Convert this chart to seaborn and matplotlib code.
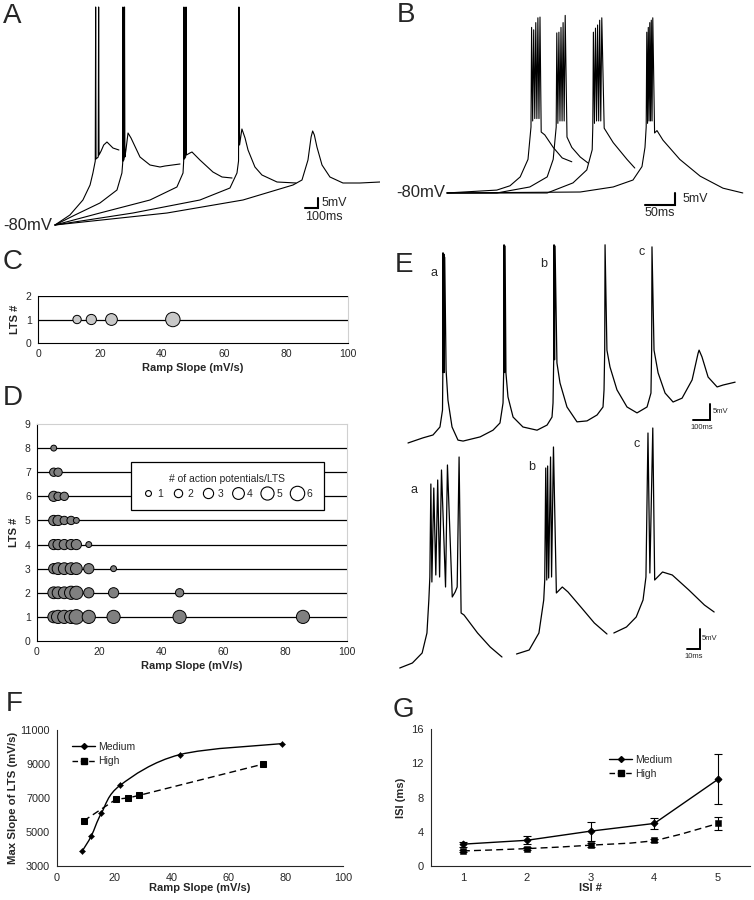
import numpy as np
import pandas as pd
import seaborn as sns
import matplotlib
matplotlib.use("Agg")
import matplotlib.pyplot as plt
from matplotlib.path import Path
from matplotlib.patches import PathPatch
from matplotlib.lines import Line2D

# ---------------- data ----------------
# A: responses to ramps of different slope (time ms, Vm mV)
a1_t = [0, 115, 215, 270, 292, 310, 313, 316, 333, 336, 339, 355, 375, 400, 423, 446, 492]
a1_v = [-80, -75, -67.5, -60, -54, -48, 29, -47, -46, 29, -45, -43, -40, -38.5, -40, -41.5, -42.5]
a2_t = [0, 154, 346, 477, 515, 521, 523, 526, 532, 535, 538, 546, 562, 585, 654, 731, 808, 846, 962]
a2_v = [-80, -75, -69, -62.5, -54, -49, 29, -48, -47, 29, -46, -42.5, -34, -36.5, -46, -50, -51, -50.5, -49.5]
a3_t = [0, 346, 731, 938, 985, 990, 992, 995, 1005, 1008, 1011, 1038, 1054, 1115, 1215, 1285, 1362]
a3_v = [-80, -74, -67.5, -61, -54, -48, 29, -47, -46, 29, -45, -44, -43.5, -47.5, -53.5, -56, -56.5]
a4_t = [0, 600, 1115, 1346, 1400, 1412, 1415, 1420, 1431, 1438, 1462, 1485, 1538, 1592, 1708, 1854]
a4_v = [-80, -74, -67.5, -61.5, -54, -48, 29, -40, -35, -32, -36.5, -42.5, -51, -55, -58.5, -59]
a5_t = [0, 862, 1446, 1831, 1900, 1946, 1970, 1982, 1995, 2015, 2054, 2115, 2215, 2346, 2500]
a5_v = [-80, -74, -67.5, -60, -57.5, -47.5, -36, -33, -35, -41, -50, -56, -59, -59, -58.5]

# B: bursts (time ms, Vm mV)
b1_t = [0, 83, 105, 122, 135, 140, 141, 142.8, 144.5, 146.3, 148, 149.8, 151.5, 153.3, 155, 157, 163, 177, 192, 208]
b1_v = [-80, -78.8, -77, -73.3, -66, -52.5, -11, -50, -12, -49, -9, -49, -7, -49, -6.7, -54.6, -55.8, -61, -65.4, -67]
b2_t = [0, 83, 138, 167, 177, 182, 183, 184.8, 186.5, 188.3, 190, 191.8, 193.5, 195.3, 197, 200, 208, 222, 235]
b2_v = [-80, -80, -77.5, -73.3, -66, -52.5, -13.3, -51, -13, -50, -11, -50, -9, -50, -6, -56.7, -61, -65, -67.5]
b3_t = [0, 167, 210, 233, 242, 243, 244, 245.8, 247.5, 249.3, 251, 252.8, 254.5, 256.3, 258, 262, 277, 300, 313]
b3_v = [-80, -80, -75.8, -70.4, -62, -52.5, -13, -51, -11.3, -50, -10, -50, -8, -50, -7, -53, -59, -66, -69.6]
b4_t = [0, 222, 277, 310, 325, 330, 332, 333, 334.3, 335.5, 336.8, 338, 339.3, 340.5, 341.8, 343, 346, 350, 360, 388, 422, 460, 493]
b4_v = [-80, -79.6, -77.5, -74.6, -69, -61, -52.5, -13, -51, -11, -50, -9, -50, -8, -50, -7, -55, -54, -58, -66, -73, -78, -80]

# E top: spontaneous LTS train (time ms, mV above trough)
e_t = [0, 88, 147, 188, 203, 205, 206, 208, 211, 213, 216, 224, 235, 259, 294, 324, 424, 500, 541, 559,
       563, 565, 568, 571, 576, 588, 618, 676, 759, 818, 847, 853, 857, 859, 862, 865, 876, 894, 935, 994,
       1053, 1112, 1147, 1153, 1157, 1159, 1170, 1188, 1229, 1288, 1347, 1406, 1429, 1433, 1435, 1447,
       1471, 1512, 1559, 1612, 1671, 1706, 1712, 1729, 1765, 1818, 1853, 1924]
e_v = [0, 1.6, 2.5, 5, 10.3, 22.8, 59.4, 22, 59, 22, 58, 22.8, 13.4, 5, 0.9, 0.6, 1.9, 4, 6.25, 12.5,
       22.8, 61.9, 22, 61.5, 21.9, 14.4, 8.1, 5, 4, 5.6, 8.1, 12.5, 26, 61.9, 26, 61.5, 25, 18.75, 11.25, 6.6,
       6.9, 8.75, 11.25, 16.6, 29, 61.9, 29, 23.75, 16.6, 11.25, 9.4, 11.25, 15.6, 29, 61.25, 29,
       21.9, 15.6, 12.8, 14, 19.7, 28, 29, 26.9, 20.6, 17.5, 18.1, 19]

# E bottom: expanded bursts a, b, c (time ms, mV)
ea_t = [0, 10, 17.7, 21.5, 23, 23.8, 24.6, 25.4, 26.9, 28.5, 30, 31.5, 33, 36.2, 37.7, 41.5, 43.8, 45.4, 46.9, 48.5, 50.8, 61.5, 71.5, 80.8]
ea_v = [0, 1.25, 3.75, 8.75, 17, 22.75, 46, 21.5, 45, 23.25, 47, 22.75, 49.5, 20.25, 50.75, 17.75, 19, 20.25, 52.75, 13.75, 13.25, 8.75, 5.25, 2.75]
eb_t = [92.3, 102.3, 110, 113.8, 114.6, 115.4, 116.2, 116.9, 117.7, 119.2, 120, 121.5, 123.8, 128.5, 133, 143.8, 153.8, 163.8]
eb_v = [3.5, 4.5, 8.75, 17, 22, 50, 22, 50.5, 22.5, 52.75, 22.75, 55.25, 18.75, 20.25, 19, 15, 11.25, 8.5]
ec_t = [169.2, 179.2, 186.9, 192.3, 194.6, 196.2, 197.7, 200, 201.5, 207.7, 215.4, 228.5, 240.8, 248.5]
ec_v = [8.75, 10.25, 12.75, 17, 22.75, 58.75, 23.75, 60, 22, 24, 23.25, 19.5, 15.75, 14]

# C: single-LTS cells
c_slope = [12.6, 17.2, 23.7, 43.5]
c_lts = [1, 1, 1, 1]
c_aps = [2, 3, 4, 6]

# D: multi-LTS cells, row i = LTS #(i+1)
d_slopes = [5.4, 6.8, 8.8, 11, 12.7, 16.7, 24.7, 46, 85.8]
d_aps = [[4, 5, 5, 5, 6, 5, 5, 5, 5],
         [4, 4, 4, 5, 5, 3, 3, 2],
         [3, 4, 4, 4, 4, 3, 1],
         [3, 3, 3, 3, 3, 1],
         [3, 3, 2, 2, 1],
         [3, 2, 2],
         [2, 2],
         [1]]

# F: max LTS slope vs ramp slope
f_med_x = [8.9, 12.0, 15.5, 22.1, 42.9, 78.8]
f_med_y = [3900, 4770, 6100, 7750, 9550, 10200]
f_high_x = [9.3, 20.7, 24.8, 28.6, 72.0]
f_high_y = [5650, 6930, 7000, 7150, 8990]

# G: ISI within burst
g_isi = [1, 2, 3, 4, 5]
g_med = [2.55, 3.0, 4.07, 4.97, 10.13]
g_med_err = [0.3, 0.45, 1.1, 0.65, 2.9]
g_high = [1.76, 2.03, 2.43, 3.0, 4.97]
g_high_err = [0.15, 0.15, 0.2, 0.2, 0.8]

# ---------------- style ----------------
sns.set_style("white")
plt.rcParams['font.family'] = ['Liberation Sans', 'DejaVu Sans']
plt.rcParams['axes.linewidth'] = 0.8

W, H = 754, 900
fig = plt.figure(figsize=(W / 100, H / 100), dpi=100)


def box(x0, y0, x1, y1):
    return [x0 / W, 1 - y1 / H, (x1 - x0) / W, (y1 - y0) / H]


def trace(ax, t, v, lw=0.8):
    sns.lineplot(x=t, y=v, sort=False, estimator=None, color='black', linewidth=lw, ax=ax)


def scalebar(ax, t0, v0, dt, dv, lw=1.5):
    ax.plot([t0, t0 + dt, t0 + dt], [v0, v0, v0 + dv], color='black', lw=lw, solid_joinstyle='miter')


def smooth_line(ax, x, y, **kw):
    pts = np.column_stack([x, y]).astype(float)
    n = len(pts)
    verts, codes = [pts[0]], [Path.MOVETO]
    for i in range(n - 1):
        p0, p1 = pts[max(i - 1, 0)], pts[i]
        p2, p3 = pts[i + 1], pts[min(i + 2, n - 1)]
        verts += [p1 + (p2 - p0) / 6, p2 - (p3 - p1) / 6, p2]
        codes += [Path.CURVE4] * 3
    ax.add_patch(PathPatch(Path(verts, codes), fill=False, **kw))


# ---------------- A ----------------
axA = fig.add_axes(box(40, 0, 380, 240))
for t, v in [(a1_t, a1_v), (a2_t, a2_v), (a3_t, a3_v), (a4_t, a4_v), (a5_t, a5_v)]:
    trace(axA, t, v)
scalebar(axA, 1923, -71.5, 100, 5)
axA.text(2050, -69, "5mV", fontsize=9, va='center')
axA.text(2069, -76, "100ms", fontsize=9, va='center', ha='center')
axA.text(-23, -80, "-80mV", fontsize=12, va='center', ha='right')
axA.set_xlim(-115, 2500)
axA.set_ylim(-87.5, 32.5)
axA.axis('off')

# ---------------- B ----------------
axB = fig.add_axes(box(420, 0, 754, 240))
for t, v in [(b1_t, b1_v), (b2_t, b2_v), (b3_t, b3_v), (b4_t, b4_v)]:
    trace(axB, t, v)
scalebar(axB, 330, -85, 50, 5)
axB.text(392, -82.5, "5mV", fontsize=9, va='center')
axB.text(355, -88.5, "50ms", fontsize=9, va='center', ha='center')
axB.text(-3, -80, "-80mV", fontsize=12, va='center', ha='right')
axB.set_xlim(-45, 511.7)
axB.set_ylim(-99.6, 0.42)
axB.axis('off')

# ---------------- E ----------------
axE1 = fig.add_axes(box(400, 240, 754, 450))
trace(axE1, e_t, e_v, lw=0.9)
scalebar(axE1, 1676, 7.2, 100, 5, lw=1.4)
axE1.text(1794, 9.7, "5mV", fontsize=5.5, va='center')
axE1.text(1729, 4.7, "100ms", fontsize=5.5, va='center', ha='center')
for lab, t, v in [("a", 153, 53), ("b", 800, 56), ("c", 1376, 59.7)]:
    axE1.text(t, v, lab, fontsize=9, ha='center', va='center')
axE1.set_xlim(-47, 2035)
axE1.set_ylim(-2.19, 63.4)
axE1.axis('off')

axE2 = fig.add_axes(box(390, 420, 754, 680))
for t, v in [(ea_t, ea_v), (eb_t, eb_v), (ec_t, ec_v)]:
    trace(axE2, t, v, lw=0.9)
scalebar(axE2, 227, 4.75, 10, 5, lw=1.4)
axE2.text(239, 7.3, "5mV", fontsize=5.5, va='center')
axE2.text(232, 3.0, "10ms", fontsize=5.5, va='center', ha='center')
for lab, t, v in [("a", 11.5, 44.5), ("b", 104.6, 50.25), ("c", 187, 56)]:
    axE2.text(t, v, lab, fontsize=9, ha='center', va='center')
axE2.set_xlim(-7.7, 280)
axE2.set_ylim(-3, 62)
axE2.axis('off')


def excel_axes(ax, ylim, yticks):
    ax.set_xlim(0, 100)
    ax.set_xticks(range(0, 101, 20))
    ax.set_ylim(*ylim)
    ax.set_yticks(yticks)
    ax.tick_params(direction='out', length=2.5, width=0.8, labelsize=7.5, pad=2, color='black')
    for s in ('left', 'bottom'):
        ax.spines[s].set_color('black')
    ax.spines['right'].set_color('#d0d0d0')
    ax.spines['top'].set_color('#d0d0d0')
    ax.set_xlabel("Ramp Slope (mV/s)", fontsize=8, fontweight='bold', labelpad=3)
    ax.set_ylabel("LTS #", fontsize=8, fontweight='bold', labelpad=4)


# ---------------- C ----------------
axC = fig.add_axes(box(38, 296, 348, 343))
for y in (1, 2):
    axC.axhline(y, color='black', lw=0.9, zorder=1)
dfC = pd.DataFrame({'slope': c_slope, 'lts': c_lts, 'aps': c_aps})
sns.scatterplot(data=dfC, x='slope', y='lts', size='aps', sizes=(18, 108), size_norm=(1, 6),
                color='#c8c8c8', edgecolor='black', linewidth=0.7, legend=False, ax=axC, zorder=3)
excel_axes(axC, (0, 2), [0, 1, 2])
axC.spines['top'].set_visible(False)

# ---------------- D ----------------
axD = fig.add_axes(box(37, 424, 347, 641))
for y in range(1, 9):
    axD.axhline(y, color='black', lw=0.9, zorder=1)
rows = [(d_slopes[j], i + 1, n) for i, row in enumerate(d_aps) for j, n in enumerate(row)]
dfD = pd.DataFrame(rows, columns=['slope', 'lts', 'aps'])
sns.scatterplot(data=dfD, x='slope', y='lts', size='aps', sizes=(18, 108), size_norm=(1, 6),
                color='#808080', edgecolor='black', linewidth=0.7, legend=False, ax=axD, zorder=3)
excel_axes(axD, (0, 9), range(0, 10))
handles = [Line2D([], [], marker='o', linestyle='', markersize=np.sqrt(18 * n), markerfacecolor='white',
                  markeredgecolor='black', markeredgewidth=0.8) for n in range(1, 7)]
leg = axD.legend(handles, [str(n) for n in range(1, 7)], ncol=6, title="# of action potentials/LTS",
                 loc='upper left', bbox_to_anchor=(0.285, 0.848), fontsize=7.5, title_fontsize=7.5,
                 frameon=True, fancybox=False, edgecolor='black', framealpha=1, handlelength=1.2,
                 handletextpad=0.3, columnspacing=0.8, borderpad=1.1)
leg.get_frame().set_linewidth(0.9)
leg.set_zorder(5)

# ---------------- F ----------------
axF = fig.add_axes(box(57, 730, 343, 866))
smooth_line(axF, f_med_x, f_med_y, color='black', lw=1)
sns.scatterplot(x=f_med_x, y=f_med_y, marker='D', s=10, color='black', edgecolor='black', ax=axF, zorder=3)
sns.lineplot(x=f_high_x, y=f_high_y, color='black', lw=1, dashes=False, linestyle=(0, (5, 3)),
             marker='s', markersize=4.5, markeredgecolor='black', ax=axF)
axF.set_xlim(0, 100)
axF.set_xticks(range(0, 101, 20))
axF.set_ylim(3000, 11000)
axF.set_yticks(range(3000, 11001, 2000))
axF.tick_params(direction='out', length=3, width=0.8, labelsize=7.8, pad=2)
sns.despine(ax=axF)
axF.set_xlabel("Ramp Slope (mV/s)", fontsize=8, fontweight='bold', labelpad=0)
axF.set_ylabel("Max Slope of LTS (mV/s)", fontsize=8.2, fontweight='bold', labelpad=2)
axF.legend([Line2D([], [], color='black', lw=1, marker='D', markersize=3),
            Line2D([], [], color='black', lw=1, linestyle=(0, (4, 2)), marker='s', markersize=4)],
           ["Medium", "High"], loc='upper left', bbox_to_anchor=(0.02, 0.98), frameon=False,
           fontsize=7.5, handlelength=2.2, handletextpad=0.3, labelspacing=0.4)

# ---------------- G ----------------
axG = fig.add_axes(box(431, 729, 750, 866))
axG.errorbar(g_isi, g_med, yerr=g_med_err, fmt='none', ecolor='black', elinewidth=0.8, capsize=3, capthick=0.8)
axG.errorbar(g_isi, g_high, yerr=g_high_err, fmt='none', ecolor='black', elinewidth=0.8, capsize=3, capthick=0.8)
sns.lineplot(x=g_isi, y=g_med, color='black', lw=1, marker='D', markersize=3.5, markeredgecolor='black', ax=axG)
smooth_line(axG, g_isi, g_high, color='black', lw=1, linestyle=(0, (5, 3)))
sns.scatterplot(x=g_isi, y=g_high, marker='s', s=22, color='black', edgecolor='black', ax=axG, zorder=3)
axG.set_xlim(0.5, 5.5)
axG.set_ylim(0, 16)
axG.set_yticks([0, 4, 8, 12, 16])
axG.set_xticks(g_isi)
axG.set_xticks([0.5, 1.5, 2.5, 3.5, 4.5, 5.5], minor=True)
axG.tick_params(axis='x', which='major', length=0, labelsize=8, pad=5)
axG.tick_params(axis='x', which='minor', direction='out', length=3, width=0.8)
axG.tick_params(axis='y', direction='out', length=3, width=0.8, labelsize=8, pad=2)
sns.despine(ax=axG)
axG.set_xlabel("ISI #", fontsize=8, fontweight='bold', labelpad=0)
axG.set_ylabel("ISI (ms)", fontsize=8, fontweight='bold', labelpad=4)
axG.legend([Line2D([], [], color='black', lw=1, marker='D', markersize=3),
            Line2D([], [], color='black', lw=1, linestyle=(0, (4, 2)), marker='s', markersize=4)],
           ["Medium", "High"], loc='upper left', bbox_to_anchor=(0.53, 0.88), frameon=False,
           fontsize=7.5, handlelength=2.2, handletextpad=0.3, labelspacing=0.4)

# ---------------- panel letters ----------------
for lab, x, y in [("A", 3, 16), ("B", 397, 15), ("C", 3, 262), ("D", 3, 398),
                  ("E", 395, 265), ("F", 6, 704), ("G", 393, 710)]:
    fig.text(x / W, 1 - y / H, lab, fontsize=20, ha='left', va='center')

fig.savefig("out.png", dpi=100)
